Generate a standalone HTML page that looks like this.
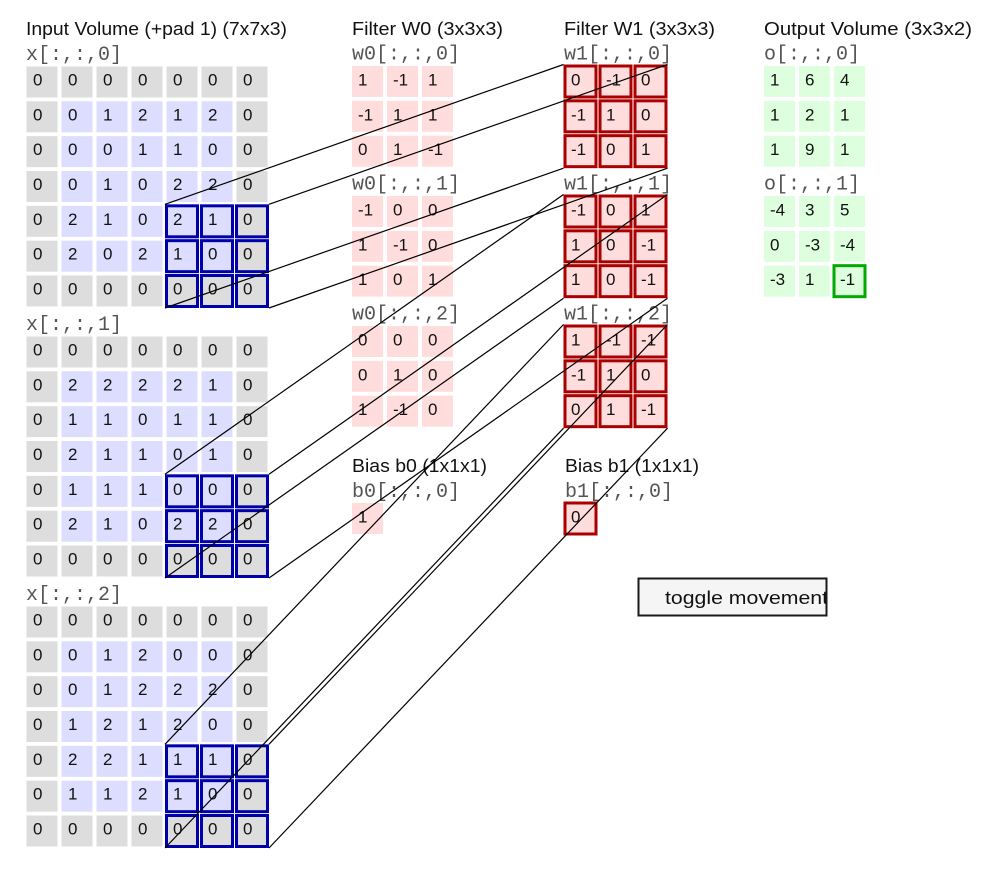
<!DOCTYPE html>
<html>
<head>
<meta charset="utf-8">
<style>
html,body{margin:0;padding:0;background:#fff;}
svg{display:block;}
.t{font-family:"Liberation Sans",sans-serif;font-size:18px;fill:#111;}
.m{font-family:"Liberation Mono",monospace;font-size:20px;fill:#555;}
.d{font-family:"Liberation Sans",sans-serif;font-size:17px;fill:#111;}
</style>
</head>
<body>
<svg width="997" height="869" viewBox="0 0 997 869" xmlns="http://www.w3.org/2000/svg">
<defs>
  <g id="g7">
    <rect width="241" height="240" fill="#dddddd"/>
    <rect x="35" y="34.83" width="171" height="170.34" fill="#ddddff"/>
    <g fill="#ffffff">
      <rect x="31" y="0" width="4" height="240"/>
      <rect x="66" y="0" width="4" height="240"/>
      <rect x="101" y="0" width="4" height="240"/>
      <rect x="136" y="0" width="4" height="240"/>
      <rect x="171" y="0" width="4" height="240"/>
      <rect x="206" y="0" width="4" height="240"/>
      <rect x="0" y="31" width="241" height="3.83"/>
      <rect x="0" y="65.83" width="241" height="3.83"/>
      <rect x="0" y="100.67" width="241" height="3.83"/>
      <rect x="0" y="135.5" width="241" height="3.83"/>
      <rect x="0" y="170.33" width="241" height="3.83"/>
      <rect x="0" y="205.17" width="241" height="3.83"/>
    </g>
  </g>
  <g id="c3">
    <rect x="0" y="0" width="31" height="31"/>
    <rect x="35" y="0" width="31" height="31"/>
    <rect x="70" y="0" width="31" height="31"/>
    <rect x="0" y="34.83" width="31" height="31"/>
    <rect x="35" y="34.83" width="31" height="31"/>
    <rect x="70" y="34.83" width="31" height="31"/>
    <rect x="0" y="69.67" width="31" height="31"/>
    <rect x="35" y="69.67" width="31" height="31"/>
    <rect x="70" y="69.67" width="31" height="31"/>
  </g>
  <clipPath id="btnclip"><rect x="639.5" y="579.5" width="186" height="35"/></clipPath>
</defs>

<!-- Titles -->
<text class="t" x="26" y="35" textLength="261" lengthAdjust="spacingAndGlyphs">Input Volume (+pad 1) (7x7x3)</text>
<text class="t" x="352" y="35" textLength="151" lengthAdjust="spacingAndGlyphs">Filter W0 (3x3x3)</text>
<text class="t" x="564" y="35" textLength="151" lengthAdjust="spacingAndGlyphs">Filter W1 (3x3x3)</text>
<text class="t" x="764" y="35" textLength="208" lengthAdjust="spacingAndGlyphs">Output Volume (3x3x2)</text>
<text class="t" x="352" y="472" textLength="135" lengthAdjust="spacingAndGlyphs">Bias b0 (1x1x1)</text>
<text class="t" x="565" y="472" textLength="134" lengthAdjust="spacingAndGlyphs">Bias b1 (1x1x1)</text>

<!-- Input slice labels -->
<text class="m" x="26" y="60">x[:,:,0]</text>
<text class="m" x="26" y="330">x[:,:,1]</text>
<text class="m" x="26" y="600">x[:,:,2]</text>

<!-- Input slice 0 -->
<use href="#g7" x="26.5" y="66.5"/>
<g class="d" transform="translate(26.5,66.5)">
  <text y="19" x="6.5 41.5 76.5 111.5 146.5 181.5 216.5">0000000</text>
  <text y="53.83" x="6.5 41.5 76.5 111.5 146.5 181.5 216.5">0012120</text>
  <text y="88.67" x="6.5 41.5 76.5 111.5 146.5 181.5 216.5">0001100</text>
  <text y="123.5" x="6.5 41.5 76.5 111.5 146.5 181.5 216.5">0010220</text>
  <text y="158.33" x="6.5 41.5 76.5 111.5 146.5 181.5 216.5">0210210</text>
  <text y="193.17" x="6.5 41.5 76.5 111.5 146.5 181.5 216.5">0202100</text>
  <text y="228" x="6.5 41.5 76.5 111.5 146.5 181.5 216.5">0000000</text>
</g>
<use href="#c3" x="166.5" y="205.83" fill="none" stroke="#0000aa" stroke-width="3"/>

<!-- Input slice 1 -->
<use href="#g7" x="26.5" y="336.5"/>
<g class="d" transform="translate(26.5,336.5)">
  <text y="19" x="6.5 41.5 76.5 111.5 146.5 181.5 216.5">0000000</text>
  <text y="53.83" x="6.5 41.5 76.5 111.5 146.5 181.5 216.5">0222210</text>
  <text y="88.67" x="6.5 41.5 76.5 111.5 146.5 181.5 216.5">0110110</text>
  <text y="123.5" x="6.5 41.5 76.5 111.5 146.5 181.5 216.5">0211010</text>
  <text y="158.33" x="6.5 41.5 76.5 111.5 146.5 181.5 216.5">0111000</text>
  <text y="193.17" x="6.5 41.5 76.5 111.5 146.5 181.5 216.5">0210220</text>
  <text y="228" x="6.5 41.5 76.5 111.5 146.5 181.5 216.5">0000000</text>
</g>
<use href="#c3" x="166.5" y="475.83" fill="none" stroke="#0000aa" stroke-width="3"/>

<!-- Input slice 2 -->
<use href="#g7" x="26.5" y="606.5"/>
<g class="d" transform="translate(26.5,606.5)">
  <text y="19" x="6.5 41.5 76.5 111.5 146.5 181.5 216.5">0000000</text>
  <text y="53.83" x="6.5 41.5 76.5 111.5 146.5 181.5 216.5">0012000</text>
  <text y="88.67" x="6.5 41.5 76.5 111.5 146.5 181.5 216.5">0012220</text>
  <text y="123.5" x="6.5 41.5 76.5 111.5 146.5 181.5 216.5">0121200</text>
  <text y="158.33" x="6.5 41.5 76.5 111.5 146.5 181.5 216.5">0221110</text>
  <text y="193.17" x="6.5 41.5 76.5 111.5 146.5 181.5 216.5">0112100</text>
  <text y="228" x="6.5 41.5 76.5 111.5 146.5 181.5 216.5">0000000</text>
</g>
<use href="#c3" x="166.5" y="745.83" fill="none" stroke="#0000aa" stroke-width="3"/>

<!-- Filter W0 -->
<text class="m" x="352" y="59.5">w0[:,:,0]</text>
<text class="m" x="352" y="189.5">w0[:,:,1]</text>
<text class="m" x="352" y="319.5">w0[:,:,2]</text>
<use href="#c3" x="352" y="66" fill="#ffdddd"/>
<use href="#c3" x="352" y="196" fill="#ffdddd"/>
<use href="#c3" x="352" y="326" fill="#ffdddd"/>
<g class="d" transform="translate(352,66)">
  <text y="19.5"><tspan x="6">1</tspan><tspan x="41">-1</tspan><tspan x="76">1</tspan></text>
  <text y="54.33"><tspan x="6">-1</tspan><tspan x="41">1</tspan><tspan x="76">1</tspan></text>
  <text y="89.17"><tspan x="6">0</tspan><tspan x="41">1</tspan><tspan x="76">-1</tspan></text>
</g>
<g class="d" transform="translate(352,196)">
  <text y="19.5"><tspan x="6">-1</tspan><tspan x="41">0</tspan><tspan x="76">0</tspan></text>
  <text y="54.33"><tspan x="6">1</tspan><tspan x="41">-1</tspan><tspan x="76">0</tspan></text>
  <text y="89.17"><tspan x="6">1</tspan><tspan x="41">0</tspan><tspan x="76">1</tspan></text>
</g>
<g class="d" transform="translate(352,326)">
  <text y="19.5"><tspan x="6">0</tspan><tspan x="41">0</tspan><tspan x="76">0</tspan></text>
  <text y="54.33"><tspan x="6">0</tspan><tspan x="41">1</tspan><tspan x="76">0</tspan></text>
  <text y="89.17"><tspan x="6">1</tspan><tspan x="41">-1</tspan><tspan x="76">0</tspan></text>
</g>

<!-- Filter W1 -->
<text class="m" x="564" y="59.5">w1[:,:,0]</text>
<text class="m" x="564" y="189.5">w1[:,:,1]</text>
<text class="m" x="564" y="319.5">w1[:,:,2]</text>
<use href="#c3" x="565" y="66" fill="#ffdddd"/>
<use href="#c3" x="565" y="196" fill="#ffdddd"/>
<use href="#c3" x="565" y="326" fill="#ffdddd"/>
<g class="d" transform="translate(565,66)">
  <text y="19.5"><tspan x="6">0</tspan><tspan x="41">-1</tspan><tspan x="76">0</tspan></text>
  <text y="54.33"><tspan x="6">-1</tspan><tspan x="41">1</tspan><tspan x="76">0</tspan></text>
  <text y="89.17"><tspan x="6">-1</tspan><tspan x="41">0</tspan><tspan x="76">1</tspan></text>
</g>
<g class="d" transform="translate(565,196)">
  <text y="19.5"><tspan x="6">-1</tspan><tspan x="41">0</tspan><tspan x="76">1</tspan></text>
  <text y="54.33"><tspan x="6">1</tspan><tspan x="41">0</tspan><tspan x="76">-1</tspan></text>
  <text y="89.17"><tspan x="6">1</tspan><tspan x="41">0</tspan><tspan x="76">-1</tspan></text>
</g>
<g class="d" transform="translate(565,326)">
  <text y="19.5"><tspan x="6">1</tspan><tspan x="41">-1</tspan><tspan x="76">-1</tspan></text>
  <text y="54.33"><tspan x="6">-1</tspan><tspan x="41">1</tspan><tspan x="76">0</tspan></text>
  <text y="89.17"><tspan x="6">0</tspan><tspan x="41">1</tspan><tspan x="76">-1</tspan></text>
</g>
<use href="#c3" x="565" y="66" fill="none" stroke="#aa0000" stroke-width="3"/>
<use href="#c3" x="565" y="196" fill="none" stroke="#aa0000" stroke-width="3"/>
<use href="#c3" x="565" y="326" fill="none" stroke="#aa0000" stroke-width="3"/>

<!-- Output -->
<text class="m" x="764" y="59.5">o[:,:,0]</text>
<text class="m" x="764" y="189.5">o[:,:,1]</text>
<use href="#c3" x="764" y="66" fill="#ddffdd"/>
<use href="#c3" x="764" y="196" fill="#ddffdd"/>
<g class="d" transform="translate(764,66)">
  <text y="19.5"><tspan x="6">1</tspan><tspan x="41">6</tspan><tspan x="76">4</tspan></text>
  <text y="54.33"><tspan x="6">1</tspan><tspan x="41">2</tspan><tspan x="76">1</tspan></text>
  <text y="89.17"><tspan x="6">1</tspan><tspan x="41">9</tspan><tspan x="76">1</tspan></text>
</g>
<g class="d" transform="translate(764,196)">
  <text y="19.5"><tspan x="6">-4</tspan><tspan x="41">3</tspan><tspan x="76">5</tspan></text>
  <text y="54.33"><tspan x="6">0</tspan><tspan x="41">-3</tspan><tspan x="76">-4</tspan></text>
  <text y="89.17"><tspan x="6">-3</tspan><tspan x="41">1</tspan><tspan x="76">-1</tspan></text>
</g>
<rect x="834" y="265.67" width="31" height="31" fill="none" stroke="#00aa00" stroke-width="3"/>

<!-- Biases -->
<text class="m" x="352" y="497">b0[:,:,0]</text>
<text class="m" x="565" y="497">b1[:,:,0]</text>
<rect x="352" y="503" width="31" height="31" fill="#ffdddd"/>
<text class="d" x="358" y="522.5">1</text>
<rect x="565" y="503" width="31" height="31" fill="#ffdddd" stroke="#aa0000" stroke-width="3"/>
<text class="d" x="571" y="522.5">0</text>

<!-- Button -->
<rect x="638.5" y="578.5" width="188" height="37" fill="#f5f5f5" stroke="#1a1a1a" stroke-width="2"/>
<g clip-path="url(#btnclip)">
  <text class="t" x="665" y="604" textLength="163" lengthAdjust="spacingAndGlyphs">toggle movement</text>
</g>

<!-- Connector lines -->
<g stroke="#000" stroke-width="1.2" fill="none">
  <line x1="165" y1="204.3" x2="563.5" y2="64.5"/>
  <line x1="269" y1="204.3" x2="667.5" y2="64.5"/>
  <line x1="165" y1="308" x2="563.5" y2="168.2"/>
  <line x1="269" y1="308" x2="667.5" y2="168.2"/>

  <line x1="165" y1="474.3" x2="563.5" y2="194.5"/>
  <line x1="269" y1="474.3" x2="667.5" y2="194.5"/>
  <line x1="165" y1="578" x2="563.5" y2="298.2"/>
  <line x1="269" y1="578" x2="667.5" y2="298.2"/>

  <line x1="165" y1="744.3" x2="563.5" y2="324.5"/>
  <line x1="269" y1="744.3" x2="667.5" y2="324.5"/>
  <line x1="165" y1="848" x2="563.5" y2="428.2"/>
  <line x1="269" y1="848" x2="667.5" y2="428.2"/>
</g>
</svg>
</body>
</html>
